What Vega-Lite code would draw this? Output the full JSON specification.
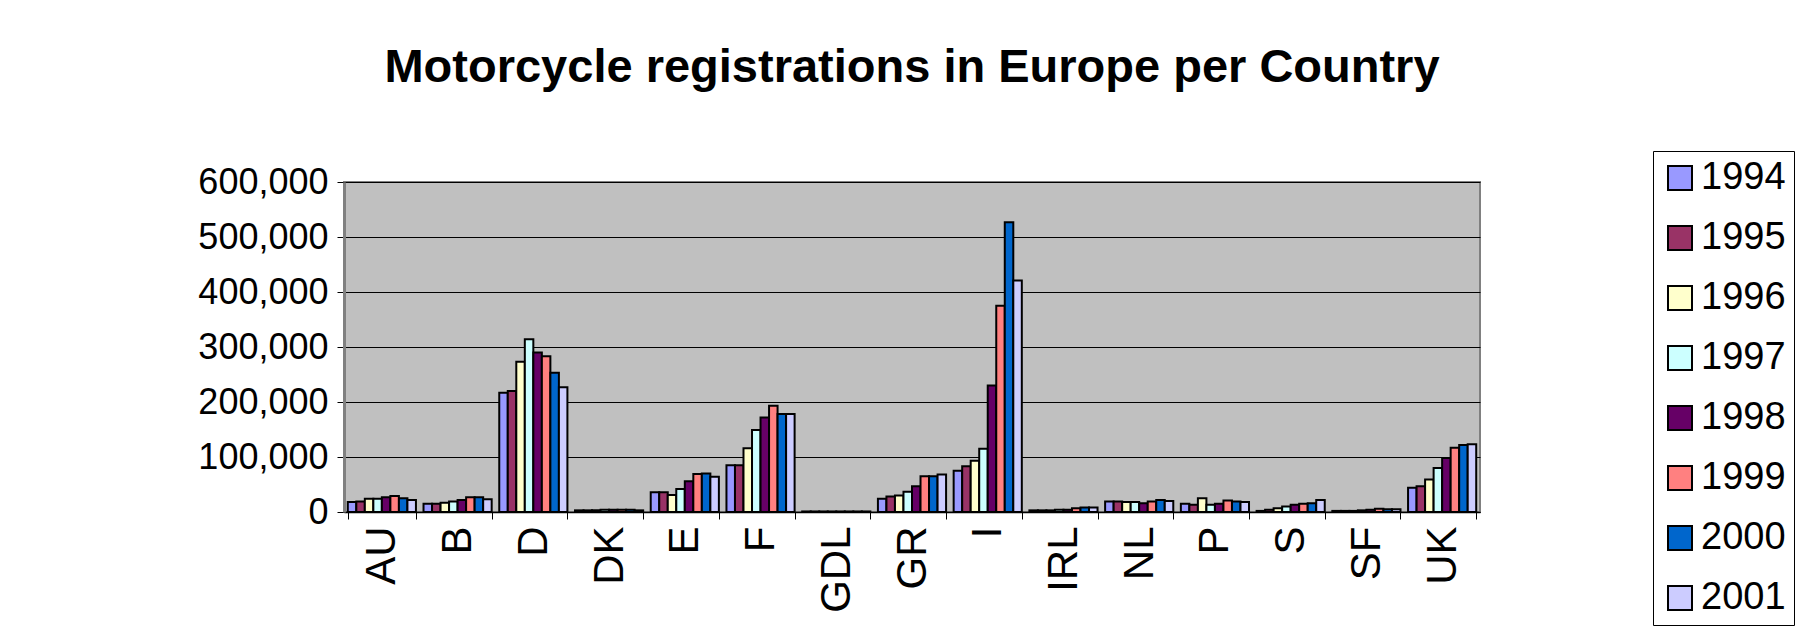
{
  "$schema": "https://vega.github.io/schema/vega-lite/v6.json",
  "autosize": {"type": "none"},
  "width": 1136,
  "height": 330,
  "padding": {"left": 344, "top": 182, "right": 318, "bottom": 130},
  "background": "white",
  "title": {
    "text": "Motorcycle registrations in Europe per Country",
    "font": "Liberation Sans",
    "fontSize": 47,
    "fontWeight": "bold",
    "color": "black",
    "anchor": "middle",
    "offset": 59
  },
  "data": {
    "values": [
      {"country": "AU", "year": "1994", "value": 18000}, {"country": "AU", "year": "1995", "value": 19000}, {"country": "AU", "year": "1996", "value": 24000}, {"country": "AU", "year": "1997", "value": 24000}, {"country": "AU", "year": "1998", "value": 27000}, {"country": "AU", "year": "1999", "value": 29000}, {"country": "AU", "year": "2000", "value": 25000}, {"country": "AU", "year": "2001", "value": 22000},
      {"country": "B", "year": "1994", "value": 15000}, {"country": "B", "year": "1995", "value": 15000}, {"country": "B", "year": "1996", "value": 17000}, {"country": "B", "year": "1997", "value": 19000}, {"country": "B", "year": "1998", "value": 22000}, {"country": "B", "year": "1999", "value": 27000}, {"country": "B", "year": "2000", "value": 27000}, {"country": "B", "year": "2001", "value": 23000},
      {"country": "D", "year": "1994", "value": 217000}, {"country": "D", "year": "1995", "value": 220000}, {"country": "D", "year": "1996", "value": 273000}, {"country": "D", "year": "1997", "value": 314000}, {"country": "D", "year": "1998", "value": 290000}, {"country": "D", "year": "1999", "value": 283000}, {"country": "D", "year": "2000", "value": 253000}, {"country": "D", "year": "2001", "value": 227000},
      {"country": "DK", "year": "1994", "value": 3000}, {"country": "DK", "year": "1995", "value": 3000}, {"country": "DK", "year": "1996", "value": 3000}, {"country": "DK", "year": "1997", "value": 4000}, {"country": "DK", "year": "1998", "value": 4000}, {"country": "DK", "year": "1999", "value": 4000}, {"country": "DK", "year": "2000", "value": 4000}, {"country": "DK", "year": "2001", "value": 3000},
      {"country": "E", "year": "1994", "value": 36000}, {"country": "E", "year": "1995", "value": 36000}, {"country": "E", "year": "1996", "value": 31000}, {"country": "E", "year": "1997", "value": 42000}, {"country": "E", "year": "1998", "value": 56000}, {"country": "E", "year": "1999", "value": 69000}, {"country": "E", "year": "2000", "value": 70000}, {"country": "E", "year": "2001", "value": 64000},
      {"country": "F", "year": "1994", "value": 85000}, {"country": "F", "year": "1995", "value": 85000}, {"country": "F", "year": "1996", "value": 116000}, {"country": "F", "year": "1997", "value": 149000}, {"country": "F", "year": "1998", "value": 172000}, {"country": "F", "year": "1999", "value": 193000}, {"country": "F", "year": "2000", "value": 178000}, {"country": "F", "year": "2001", "value": 178000},
      {"country": "GDL", "year": "1994", "value": 1000}, {"country": "GDL", "year": "1995", "value": 1000}, {"country": "GDL", "year": "1996", "value": 1000}, {"country": "GDL", "year": "1997", "value": 1000}, {"country": "GDL", "year": "1998", "value": 1000}, {"country": "GDL", "year": "1999", "value": 1000}, {"country": "GDL", "year": "2000", "value": 1000}, {"country": "GDL", "year": "2001", "value": 1000},
      {"country": "GR", "year": "1994", "value": 24000}, {"country": "GR", "year": "1995", "value": 28000}, {"country": "GR", "year": "1996", "value": 30000}, {"country": "GR", "year": "1997", "value": 37000}, {"country": "GR", "year": "1998", "value": 47000}, {"country": "GR", "year": "1999", "value": 65000}, {"country": "GR", "year": "2000", "value": 65000}, {"country": "GR", "year": "2001", "value": 68000},
      {"country": "I", "year": "1994", "value": 75000}, {"country": "I", "year": "1995", "value": 83000}, {"country": "I", "year": "1996", "value": 93000}, {"country": "I", "year": "1997", "value": 115000}, {"country": "I", "year": "1998", "value": 230000}, {"country": "I", "year": "1999", "value": 375000}, {"country": "I", "year": "2000", "value": 527000}, {"country": "I", "year": "2001", "value": 421000},
      {"country": "IRL", "year": "1994", "value": 3000}, {"country": "IRL", "year": "1995", "value": 3000}, {"country": "IRL", "year": "1996", "value": 3000}, {"country": "IRL", "year": "1997", "value": 4000}, {"country": "IRL", "year": "1998", "value": 4000}, {"country": "IRL", "year": "1999", "value": 7000}, {"country": "IRL", "year": "2000", "value": 8000}, {"country": "IRL", "year": "2001", "value": 8000},
      {"country": "NL", "year": "1994", "value": 19000}, {"country": "NL", "year": "1995", "value": 19000}, {"country": "NL", "year": "1996", "value": 18000}, {"country": "NL", "year": "1997", "value": 18000}, {"country": "NL", "year": "1998", "value": 16000}, {"country": "NL", "year": "1999", "value": 19000}, {"country": "NL", "year": "2000", "value": 22000}, {"country": "NL", "year": "2001", "value": 20000},
      {"country": "P", "year": "1994", "value": 15000}, {"country": "P", "year": "1995", "value": 13000}, {"country": "P", "year": "1996", "value": 25000}, {"country": "P", "year": "1997", "value": 13000}, {"country": "P", "year": "1998", "value": 15000}, {"country": "P", "year": "1999", "value": 21000}, {"country": "P", "year": "2000", "value": 19000}, {"country": "P", "year": "2001", "value": 18000},
      {"country": "S", "year": "1994", "value": 2000}, {"country": "S", "year": "1995", "value": 4000}, {"country": "S", "year": "1996", "value": 7000}, {"country": "S", "year": "1997", "value": 10000}, {"country": "S", "year": "1998", "value": 13000}, {"country": "S", "year": "1999", "value": 15000}, {"country": "S", "year": "2000", "value": 16000}, {"country": "S", "year": "2001", "value": 22000},
      {"country": "SF", "year": "1994", "value": 2000}, {"country": "SF", "year": "1995", "value": 2000}, {"country": "SF", "year": "1996", "value": 2000}, {"country": "SF", "year": "1997", "value": 3000}, {"country": "SF", "year": "1998", "value": 4000}, {"country": "SF", "year": "1999", "value": 6000}, {"country": "SF", "year": "2000", "value": 5000}, {"country": "SF", "year": "2001", "value": 5000},
      {"country": "UK", "year": "1994", "value": 44000}, {"country": "UK", "year": "1995", "value": 47000}, {"country": "UK", "year": "1996", "value": 59000}, {"country": "UK", "year": "1997", "value": 80000}, {"country": "UK", "year": "1998", "value": 98000}, {"country": "UK", "year": "1999", "value": 117000}, {"country": "UK", "year": "2000", "value": 122000}, {"country": "UK", "year": "2001", "value": 123000}
    ]
  },
  "mark": {"type": "bar", "stroke": "black", "strokeWidth": 2},
  "encoding": {
    "x": {
      "field": "country",
      "type": "nominal",
      "sort": null,
      "scale": {"paddingInner": 0.1, "paddingOuter": 0.05},
      "axis": {
        "title": null,
        "labelAngle": -90,
        "labelFont": "Liberation Sans",
        "labelFontSize": 42,
        "labelColor": "black",
        "labelPadding": 7,
        "tickBand": "extent",
        "tickSize": 7,
        "tickColor": "black",
        "domainColor": "black",
        "domainWidth": 1.5,
        "grid": false
      }
    },
    "xOffset": {"field": "year", "type": "nominal", "scale": {"paddingInner": 0}},
    "y": {
      "field": "value",
      "type": "quantitative",
      "scale": {"domain": [0, 600000], "nice": false},
      "axis": {
        "title": null,
        "values": [0, 100000, 200000, 300000, 400000, 500000, 600000],
        "format": ",d",
        "labelFont": "Liberation Sans",
        "labelFontSize": 36,
        "labelColor": "black",
        "labelPadding": 9,
        "tickSize": 7,
        "tickColor": "black",
        "domainColor": "#808080",
        "domainWidth": 3,
        "grid": true,
        "gridColor": "black",
        "gridWidth": 1
      }
    },
    "fill": {
      "field": "year",
      "type": "nominal",
      "scale": {
        "domain": ["1994", "1995", "1996", "1997", "1998", "1999", "2000", "2001"],
        "range": ["#9999FF", "#993366", "#FFFFCC", "#CCFFFF", "#660066", "#FF8080", "#0066CC", "#CCCCFF"]
      },
      "legend": {
        "title": null,
        "orient": "none",
        "legendX": 1309,
        "legendY": -31,
        "padding": 8,
        "strokeColor": "black",
        "fillColor": "white",
        "symbolType": "square",
        "symbolSize": 576,
        "symbolStrokeColor": "black",
        "symbolStrokeWidth": 2,
        "labelFont": "Liberation Sans",
        "labelFontSize": 38,
        "labelColor": "black",
        "labelOffset": 2,
        "rowPadding": 22,
        "labelLimit": 300
      }
    }
  },
  "config": {
    "view": {"fill": "#C0C0C0", "stroke": "#808080", "strokeWidth": 2}
  }
}
